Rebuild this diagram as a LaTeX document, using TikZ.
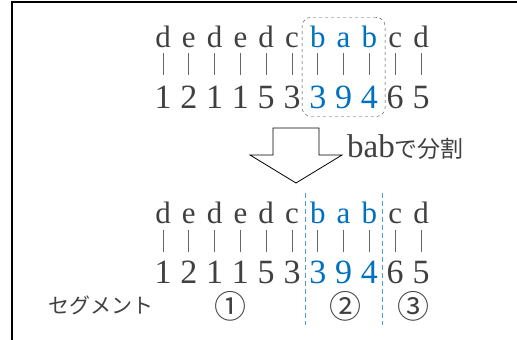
\documentclass[tikz,border=0pt]{standalone}
\usepackage{fontspec}
\setmainfont{Liberation Serif}
\newfontfamily\jpfont{Noto Sans CJK JP}
\usetikzlibrary{fit,positioning}
\definecolor{txtgray}{HTML}{404040}
\definecolor{segblue}{HTML}{0070C0}
\tikzset{letter/.style={inner sep=0pt, anchor=base, font=\fontsize{31}{31}\selectfont},
  digit/.style={inner sep=0pt, anchor=base, font=\fontsize{34}{34}\selectfont},
  tick/.style={draw=txtgray!80, line width=0.7pt},
  segcut/.style={draw=segblue!70, dash pattern=on 5pt off 3pt, line width=0.8pt},
  jptext/.style={text=txtgray, font=\jpfont\fontsize{21}{21}\selectfont},
  segnum/.style={text=txtgray, inner sep=0pt, font=\jpfont\fontsize{32}{32}\selectfont}}

\begin{document}
\begin{tikzpicture}[x=1pt,y=-1pt]
    \useasboundingbox (0,0) rectangle (517,340);
    \draw[line width=2pt] (12,340) -- (12,2) -- (517,2);

    % before splitting
    \foreach \ch/\num/\col [count=\i] in {d/1/txtgray,e/2/txtgray,d/1/txtgray,e/1/txtgray,d/5/txtgray,c/3/txtgray,b/3/segblue,a/9/segblue,b/4/segblue,c/6/txtgray,d/5/txtgray} {
        \node [letter, text=\col] (ta\i) at (163+25.8*\i-25.8,47) {\ch};
        \node [digit, text=\col] (tn\i) at (163+25.8*\i-25.8,108) {\num};
        \draw [tick] (163+25.8*\i-25.8,53) -- (163+25.8*\i-25.8,75);
    }
    \node [fit=(ta7)(ta9)(tn7)(tn9), draw=txtgray, dashed, rounded corners=9pt, inner xsep=7pt, inner ysep=8pt] (match) {};

    % arrow
    \draw [fill=white, line width=0.8pt] (273,128) -- (319,128) -- (319,155) -- (342,155) -- (296,183) -- (250,155) -- (273,155) -- cycle;
    \coordinate (arrowside) at (347,147);
    \node [anchor=west, inner sep=0pt, text=txtgray] (splitlabel) at (arrowside) {\fontsize{33}{33}\selectfont bab\jpfont\fontsize{23}{23}\selectfont で分割};

    % after splitting
    \foreach \ch/\num/\col [count=\i] in {d/1/txtgray,e/2/txtgray,d/1/txtgray,e/1/txtgray,d/5/txtgray,c/3/txtgray,b/3/segblue,a/9/segblue,b/4/segblue,c/6/txtgray,d/5/txtgray} {
        \node [letter, text=\col] (ba\i) at (163+25.8*\i-25.8,223) {\ch};
        \node [digit, text=\col] (bn\i) at (163+25.8*\i-25.8,283) {\num};
        \draw [tick] (163+25.8*\i-25.8,230) -- (163+25.8*\i-25.8,252);
    }
    \coordinate (cut1top) at (305,193);
    \coordinate (cut1bot) at (305,325);
    \coordinate (cut2top) at (382.5,193);
    \coordinate (cut2bot) at (382.5,325);
    \draw [segcut] (cut1top) -- (cut1bot);
    \draw [segcut] (cut2top) -- (cut2bot);

    \node [jptext] (seglabel) at (101,305) {セグメント};
    \node [segnum] (seg1) at (230,306) {①};
    \node [segnum] (seg2) at (345,306) {②};
    \node [segnum] (seg3) at (413,306) {③};
\end{tikzpicture}
\end{document}
